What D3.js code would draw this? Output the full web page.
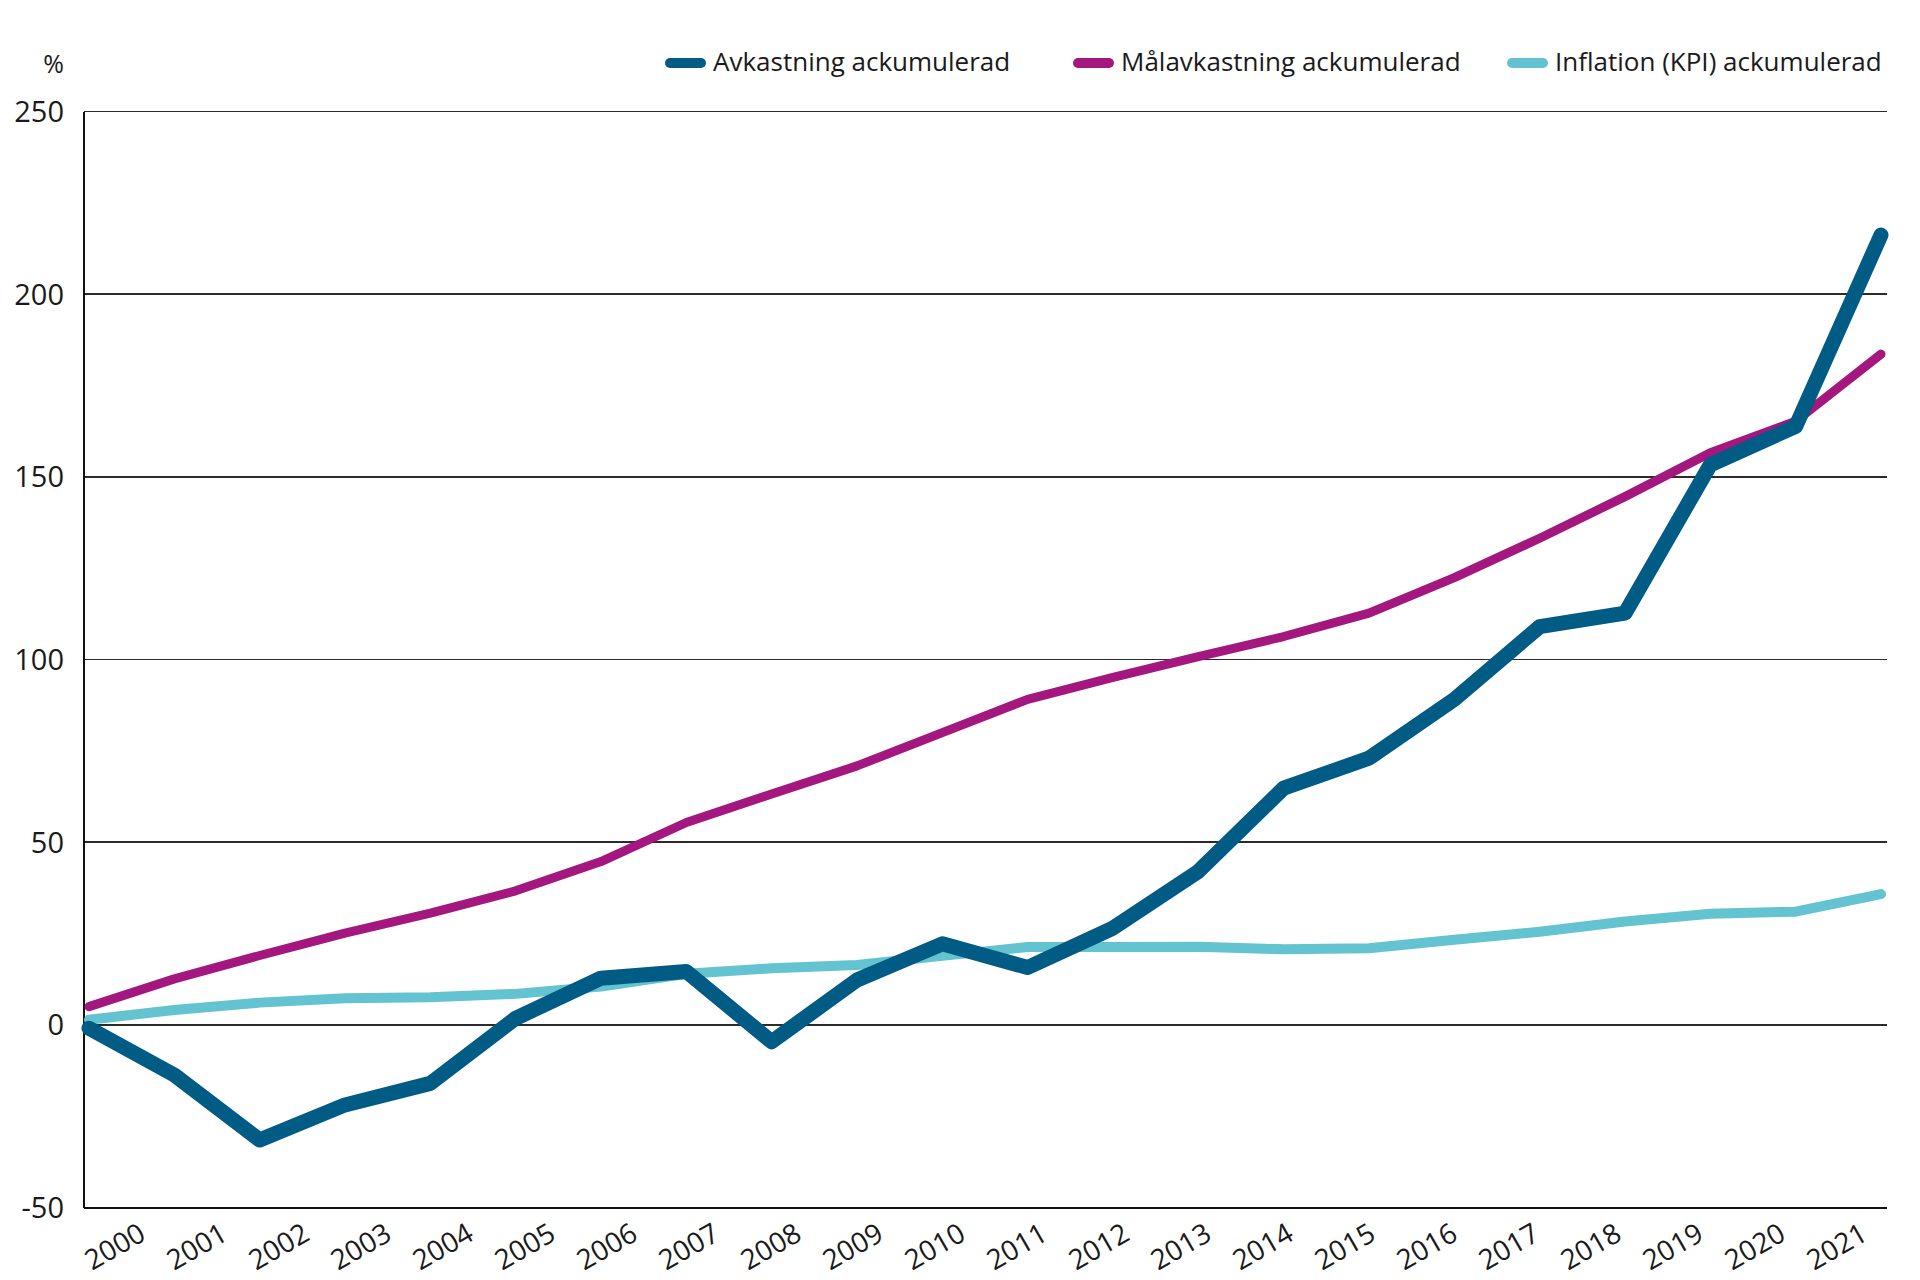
<!DOCTYPE html>
<html>
<head>
<meta charset="utf-8">
<script src="https://cdn.jsdelivr.net/npm/d3@7"></script>
<style>
  html, body { margin: 0; padding: 0; background: #fff; }
  svg { display: block; font-family: "Open Sans", "Noto Sans", sans-serif; }
</style>
</head>
<body>
<svg id="chart" width="1920" height="1280"></svg>
<script>
const years = ["2000","2001","2002","2003","2004","2005","2006","2007","2008","2009","2010","2011","2012","2013","2014","2015","2016","2017","2018","2019","2020","2021"];
const avkastning = [-0.9, -13.7, -31.5, -21.9, -16.0, 1.8, 12.8, 14.6, -4.6, 12.3, 22.2, 15.7, 26.5, 42.0, 64.8, 73.0, 89.1, 109.0, 112.7, 153.3, 163.8, 216.2];
const malavkastning = [5.0, 12.6, 19.0, 25.1, 30.6, 36.7, 44.7, 55.4, 63.2, 70.9, 80.0, 89.1, 95.1, 100.8, 106.3, 112.7, 122.4, 133.2, 144.6, 156.6, 165.2, 183.6];
const inflation = [1.4, 4.1, 6.1, 7.3, 7.6, 8.5, 10.5, 14.0, 15.5, 16.4, 18.9, 21.3, 21.3, 21.4, 20.7, 21.0, 23.3, 25.5, 28.3, 30.4, 31.0, 35.8];
const seriesNames = ["Avkastning ackumulerad", "Målavkastning ackumulerad", "Inflation (KPI) ackumulerad"];
const yTicks = [-50, 0, 50, 100, 150, 200, 250];
const yUnit = "%";

const colors = ["#005b85", "#a4177f", "#63c3d0"];
const widths = [15, 9, 10];
const series = [avkastning, malavkastning, inflation];

const svg = d3.select("#chart");
const plotLeft = 84, plotRight = 1887;

const x = d3.scalePoint().domain(years).range([89, 1881]);
const xLabel = d3.scalePoint().domain(years).range([92, 92 + 21 * 82]);
const y = d3.scaleLinear().domain([-50, 250]).range([1207.6, 111.5]);

// gridlines
const grid = svg.append("g");
grid.selectAll("line").data(yTicks).join("line")
  .attr("x1", plotLeft).attr("x2", plotRight)
  .attr("y1", d => y(d)).attr("y2", d => y(d))
  .attr("stroke", d => d === -50 ? "#111" : "#2b2b2b")
  .attr("stroke-width", d => d === -50 ? 2 : 1.5)
  .attr("shape-rendering", "crispEdges");

// left axis line
svg.append("line")
  .attr("x1", plotLeft).attr("x2", plotLeft)
  .attr("y1", y(250)).attr("y2", y(-50))
  .attr("stroke", "#111").attr("stroke-width", 2)
  .attr("shape-rendering", "crispEdges");

// y tick labels
svg.append("g").selectAll("text").data(yTicks).join("text")
  .attr("x", 64).attr("y", d => y(d)).attr("dy", "0.36em")
  .attr("text-anchor", "end")
  .attr("font-size", 29).attr("fill", "#1a1a1a")
  .text(d => d);

svg.append("text")
  .attr("x", 64).attr("y", 73)
  .attr("text-anchor", "end")
  .attr("font-size", 25).attr("fill", "#1a1a1a")
  .text(yUnit);

// x tick labels
svg.append("g").selectAll("text").data(years).join("text")
  .attr("transform", d => `translate(${xLabel(d)},1271) rotate(-30)`)
  .attr("text-anchor", "start")
  .attr("font-size", 28).attr("fill", "#1a1a1a")
  .text(d => d);

// lines (draw inflation, target, then return on top)
const line = d3.line().x((d, i) => x(years[i])).y(d => y(d));
[2, 1, 0].forEach(k => {
  svg.append("path")
    .datum(series[k])
    .attr("d", line)
    .attr("fill", "none")
    .attr("stroke", colors[k])
    .attr("stroke-width", widths[k])
    .attr("stroke-linecap", "round")
    .attr("stroke-linejoin", "round");
});

// legend
const legendX = [670, 1078, 1512];
const legend = svg.append("g");
seriesNames.forEach((name, k) => {
  legend.append("line")
    .attr("x1", legendX[k]).attr("x2", legendX[k] + 31)
    .attr("y1", 63).attr("y2", 63)
    .attr("stroke", colors[k]).attr("stroke-width", 10)
    .attr("stroke-linecap", "round");
  legend.append("text")
    .attr("x", legendX[k] + 43).attr("y", 71)
    .attr("font-size", 26).attr("fill", "#1a1a1a")
    .text(name);
});
</script>
</body>
</html>
